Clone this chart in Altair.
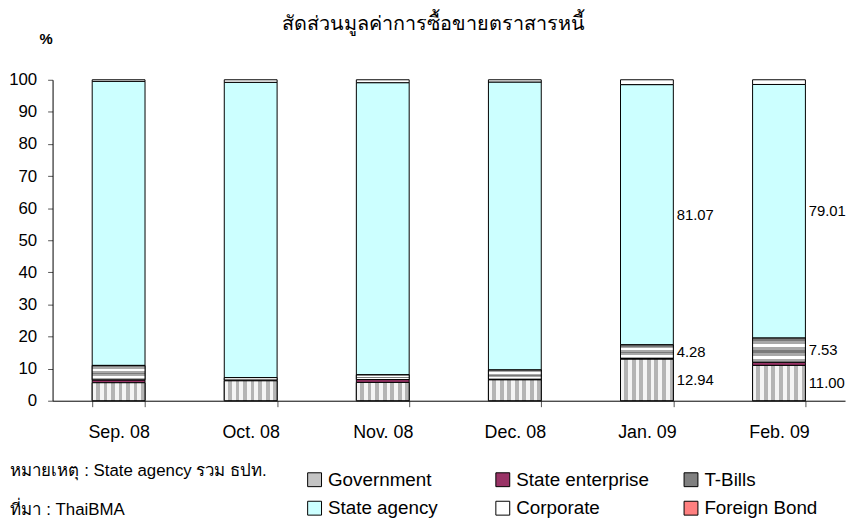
import altair as alt
import pandas as pd

months = ["Sep. 08", "Oct. 08", "Nov. 08", "Dec. 08", "Jan. 09", "Feb. 09"]
series = ["Government", "State enterprise", "T-Bills", "State agency", "Corporate", "Foreign Bond"]
government = [5.6, 6.2, 5.7, 6.5, 12.94, 11.00]
state_enterprise = [0.9, 0.2, 0.9, 0.1, 0.2, 1.0]
t_bills = [4.5, 0.8, 1.5, 3.0, 4.28, 7.53]
state_agency = [88.5, 92.0, 91.0, 89.7, 81.07, 79.01]
corporate = [0.5, 0.8, 0.9, 0.7, 1.51, 1.46]
foreign_bond = [0.0, 0.0, 0.0, 0.0, 0.0, 0.0]
labelled_months = ["Jan. 09", "Feb. 09"]
labelled_series = ["Government", "T-Bills", "State agency"]
colors = ["#c4c4c4", "#993366", "#808080", "#ccffff", "#ffffff", "#ff8080"]

title_text = "สัดส่วนมูลค่าการซื้อขายตราสารหนี้"
notes = ["หมายเหตุ : State agency รวม ธปท.", "ที่มา : ThaiBMA"]

values_by_series = [government, state_enterprise, t_bills, state_agency, corporate, foreign_bond]
rows = []
for i, m in enumerate(months):
    for j, s in enumerate(series):
        rows.append({"month": m, "series": s, "order": j, "value": values_by_series[j][i]})
df = pd.DataFrame(rows)

FONT = "Liberation Sans"


def stripes(cycle, n, vertical):
    total = n * len(cycle)
    stops = []
    for i in range(total):
        c = cycle[i % len(cycle)]
        stops.append(alt.GradientStop(color=c, offset=i / total))
        stops.append(alt.GradientStop(color=c, offset=(i + 1) / total))
    if vertical:
        return alt.LinearGradient(gradient="linear", stops=stops, x1=0, x2=1, y1=0, y2=0)
    return alt.LinearGradient(gradient="linear", stops=stops, x1=0, x2=0, y1=0, y2=1)


gov_fill = stripes(["#f4f4f4", "#b4b4b4"], 7, True)
tb_fill = stripes(["#7a7a7a", "#a8a8a8", "#ffffff", "#a8a8a8"], 2, False)

x_axis = alt.Axis(
    labelAngle=0, labelFontSize=18, labelFont=FONT, labelColor="black",
    tickBand="extent", tickSize=6, tickColor="#555555", domainColor="black",
    labelPadding=17,
    title=notes, titleFont=FONT, titleFontSize=17, titleFontWeight="normal",
    titleAlign="left", titleAnchor="start", titleBaseline="middle",
    titleX=-43, titleY=70, titleLineHeight=40, titleColor="black",
)
y_axis = alt.Axis(
    values=[0, 10, 20, 30, 40, 50, 60, 70, 80, 90, 100],
    labelFontSize=17, labelFont=FONT, labelColor="black", labelPadding=11,
    tickSize=5, tickColor="#555555", domainColor="black", grid=False,
    title="%", titleAngle=0, titleX=-7, titleY=-42, titleAlign="center",
    titleBaseline="middle", titleFont=FONT, titleFontSize=15,
    titleFontWeight="bold", titleColor="black",
)

x_enc = alt.X("month:N", sort=months,
              scale=alt.Scale(domain=months, paddingInner=0.6, paddingOuter=0.3),
              axis=x_axis)
y_scale = alt.Scale(domain=[0, 100], nice=False)

base = alt.Chart(df).transform_filter("datum.value > 0").transform_stack(
    stack="value", groupby=["month"], as_=["y0", "y1"],
    sort=[alt.SortField(field="order", order="ascending")],
)

bars = base.mark_bar(stroke="black", strokeWidth=1).encode(
    x=x_enc,
    y=alt.Y("y0:Q", scale=y_scale, axis=y_axis),
    y2="y1:Q",
    color=alt.Color(
        "series:N",
        scale=alt.Scale(domain=series, range=colors),
        legend=alt.Legend(
            orient="none", legendX=255, legendY=394, columns=3, direction="horizontal",
            gridAlign="all",
            columnPadding=32, rowPadding=9, symbolType="square", symbolSize=196,
            symbolStrokeColor="black", symbolStrokeWidth=1, labelOffset=4,
            labelFontSize=19, labelFont=FONT, labelColor="black", labelLimit=400,
            title=None, padding=0,
        ),
    ),
)

gov = base.transform_filter(alt.datum.series == "Government").mark_bar(
    fill=gov_fill, stroke="black", strokeWidth=1
).encode(x=x_enc, y=alt.Y("y0:Q", scale=y_scale, axis=y_axis), y2="y1:Q")

tb = base.transform_filter(alt.datum.series == "T-Bills").mark_bar(
    fill=tb_fill, stroke="black", strokeWidth=1
).encode(x=x_enc, y=alt.Y("y0:Q", scale=y_scale, axis=y_axis), y2="y1:Q")

labels = base.transform_filter(
    alt.FieldOneOfPredicate(field="month", oneOf=labelled_months)
).transform_filter(
    alt.FieldOneOfPredicate(field="series", oneOf=labelled_series)
).transform_calculate(mid="(datum.y0 + datum.y1) / 2").mark_text(
    align="left", baseline="middle", dx=30, fontSize=15, font=FONT, color="black"
).encode(
    x=x_enc,
    y=alt.Y("mid:Q", scale=y_scale, axis=y_axis),
    text=alt.Text("value:Q", format=".2f"),
)

chart = alt.layer(bars, gov, tb, labels).properties(
    width=800, height=324,
    autosize=alt.AutoSizeParams(type="none"),
    padding={"left": 45, "top": 70, "right": 4, "bottom": 122},
    title=alt.TitleParams(
        title_text, fontSize=20, fontWeight="normal", font=FONT, color="black",
        anchor="middle", frame="group", dx=-15, offset=-3,
    ),
).configure_view(stroke=None)

chart.save("out.html", embed_options={"renderer": "svg", "actions": False})
